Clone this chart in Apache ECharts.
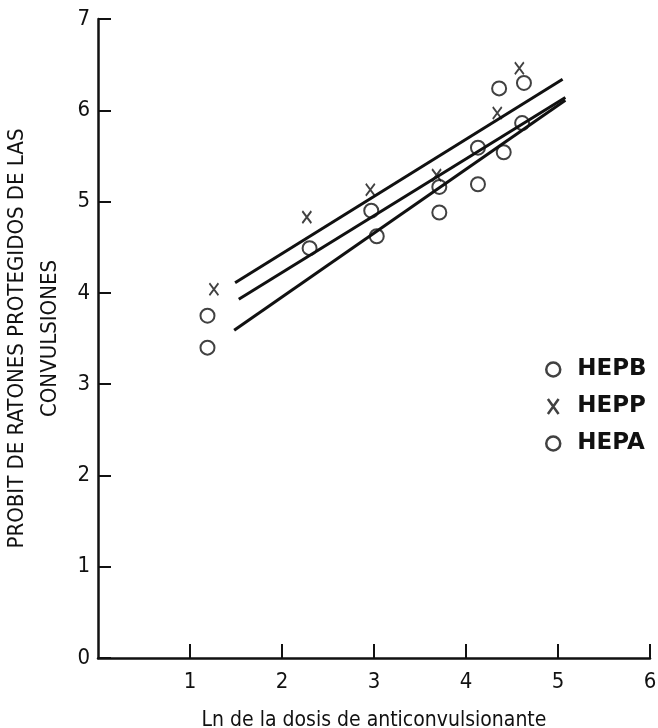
<!DOCTYPE html>
<html>
<head>
<meta charset="utf-8">
<script src="https://cdn.jsdelivr.net/npm/echarts@6/dist/echarts.min.js"></script>
<style>
html,body{margin:0;padding:0;background:#fff;}
#chart{width:658px;height:728px;}
</style>
</head>
<body>
<div id="chart"></div>
<script>
// ---- data ----
const xTicks = [0, 1, 2, 3, 4, 5, 6];
const yTicks = [0, 1, 2, 3, 4, 5, 6, 7];

const hepbPoints = [[1.19, 3.75], [2.30, 4.49], [2.97, 4.90], [3.71, 5.16], [4.13, 5.59], [4.36, 6.24], [4.63, 6.30]];
const heppPoints = [[1.26, 4.04], [2.27, 4.83], [2.96, 5.13], [3.68, 5.29], [4.34, 5.97], [4.58, 6.46]];
const hepaPoints = [[1.19, 3.40], [3.03, 4.62], [3.71, 4.88], [4.13, 5.19], [4.41, 5.54], [4.61, 5.86]];

const heppLine = [[1.49, 4.11], [5.05, 6.34]];
const hepbLine = [[1.53, 3.93], [5.08, 6.14]];
const hepaLine = [[1.48, 3.59], [5.08, 6.11]];

const seriesNames = ['HEPB', 'HEPP', 'HEPA'];
const xAxisTitle = 'Ln de la dosis de anticonvulsionante';
const yAxisTitle = 'PROBIT DE RATONES PROTEGIDOS DE LAS\nCONVULSIONES';

// ---- chart ----
const X_PATH = 'path://M0,0L10,14M10,0L0,14';
const ink = '#111';
const condensed = '"DejaVu Sans Condensed", "Liberation Sans Narrow", "Liberation Sans", sans-serif';

const chart = echarts.init(document.getElementById('chart'), null, {renderer: 'canvas'});

const lineSeries = (data) => ({
  type: 'line', data: data, symbol: 'none', silent: true,
  lineStyle: {color: ink, width: 3}, z: 2
});
const circleScatter = (name, data) => ({
  name: name, type: 'scatter', data: data, symbol: 'circle', symbolSize: 14,
  itemStyle: {color: 'rgba(0,0,0,0)', borderColor: ink, borderWidth: 2}, z: 3
});

chart.setOption({
  animation: false,
  backgroundColor: '#fff',
  grid: {left: 98, right: 8, top: 19, bottom: 70, containLabel: false, outerBoundsMode: 'none'},
  legend: {
    orient: 'vertical', left: 540, top: 353, itemGap: 14,
    itemWidth: 14, itemHeight: 15,
    textStyle: {fontFamily: 'DejaVu Sans', fontWeight: 'bold', fontSize: 23, color: ink, padding: [0, 0, 0, 12]},
    data: [
      {name: seriesNames[0], icon: 'circle', itemStyle: {color: 'rgba(0,0,0,0)', borderColor: ink, borderWidth: 2.5}},
      {name: seriesNames[1], icon: X_PATH, itemStyle: {color: 'rgba(0,0,0,0)', borderColor: ink, borderWidth: 2.5}},
      {name: seriesNames[2], icon: 'circle', itemStyle: {color: 'rgba(0,0,0,0)', borderColor: ink, borderWidth: 2.5}}
    ]
  },
  xAxis: {
    type: 'value', min: xTicks[0], max: xTicks[xTicks.length - 1], interval: 1,
    name: xAxisTitle, nameLocation: 'middle', nameGap: 52,
    nameTextStyle: {fontFamily: condensed, fontSize: 21, color: ink},
    axisLine: {lineStyle: {color: ink, width: 2.5}},
    axisTick: {inside: true, length: 14, lineStyle: {color: ink, width: 2}},
    axisLabel: {showMinLabel: false, margin: 13, fontFamily: condensed, fontSize: 22, color: ink},
    splitLine: {show: false}
  },
  yAxis: {
    type: 'value', min: yTicks[0], max: yTicks[yTicks.length - 1], interval: 1,
    name: yAxisTitle, nameLocation: 'middle', nameRotate: 90, nameGap: 29,
    nameTextStyle: {fontFamily: condensed, fontSize: 22, lineHeight: 33, color: ink},
    axisLine: {lineStyle: {color: ink, width: 2.5}},
    axisTick: {inside: true, length: 13, lineStyle: {color: ink, width: 2}},
    axisLabel: {margin: 8, fontFamily: condensed, fontSize: 22, color: ink},
    splitLine: {show: false}
  },
  series: [
    lineSeries(heppLine),
    lineSeries(hepbLine),
    lineSeries(hepaLine),
    circleScatter(seriesNames[0], hepbPoints),
    {
      name: seriesNames[1], type: 'scatter', data: heppPoints, symbol: X_PATH, symbolSize: [9, 12],
      itemStyle: {color: 'rgba(0,0,0,0)', borderColor: ink, borderWidth: 2}, z: 3
    },
    circleScatter(seriesNames[2], hepaPoints)
  ]
});
</script>
</body>
</html>
